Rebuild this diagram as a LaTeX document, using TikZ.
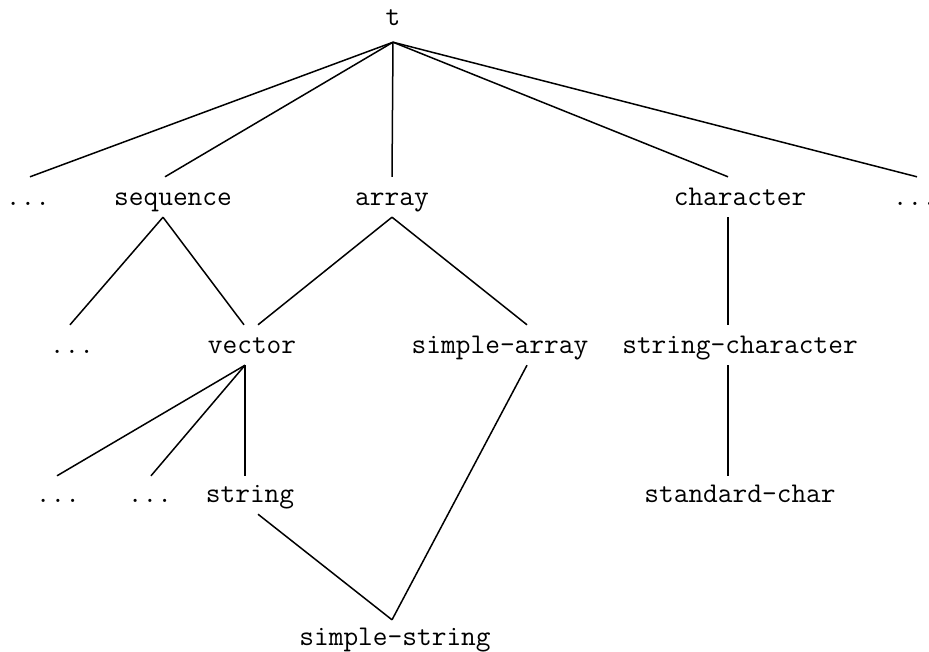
\documentclass[tikz,border=0pt]{standalone}
\usepackage{tikz}
\usetikzlibrary{calc}
\tikzset{%
  myedge/.style={line width=1.5pt, line cap=butt},
  mynode/.style={font=\fontsize{28.57}{30}\ttfamily, inner sep=0pt, anchor=base,
    text height=28pt, text depth=12pt}
}

\begin{document}
\begin{tikzpicture}[x=1pt, y=-1pt]
  \useasboundingbox (0,0) rectangle (929,651);
  \node[mynode, text depth=17pt] (t) at (393,25) {t};
  \node[mynode] (d1) at (28,205) {...};
  \node[mynode] (seq) at (173,205) {sequence};
  \node[mynode] (arr) at (392,205) {array};
  \node[mynode] (chr) at (740,205) {character};
  \node[mynode] (d2) at (915,205) {...};
  \node[mynode] (d3) at (72,353) {...};
  \node[mynode] (vec) at (252,353) {vector};
  \node[mynode] (sarr) at (500,353) {simple-array};
  \node[mynode] (schr) at (740,353) {string-character};
  \node[mynode] (d4) at (58,502) {...};
  \node[mynode] (d5) at (150,502) {...};
  \node[mynode] (str) at (250,502) {string};
  \node[mynode] (stdc) at (740,502) {standard-char};
  \node[mynode, text height=25pt] (sstr) at (395,645) {simple-string};
  \draw [myedge] (t.south) -- ([xshift=2pt]d1.north);
  \draw [myedge] (t.south) -- ([xshift=-8pt]seq.north);
  \draw [myedge] (t.south) -- (arr.north);
  \draw [myedge] (t.south) -- ([xshift=-12pt]chr.north);
  \draw [myedge] (t.south) -- ([xshift=2pt]d2.north);
  \draw [myedge] ([xshift=-10pt]seq.south) -- ([xshift=-2pt]d3.north);
  \draw [myedge] ([xshift=-10pt]seq.south) -- ([xshift=-8pt]vec.north);
  \draw [myedge] (arr.south) -- ([xshift=6pt]vec.north);
  \draw [myedge] (arr.south) -- ([xshift=27pt]sarr.north);
  \draw [myedge] ([xshift=-12pt]chr.south) -- ([xshift=-12pt]schr.north);
  \draw [myedge] ([xshift=-7pt]vec.south) -- ([xshift=-1pt, yshift=-2pt]d4.north);
  \draw [myedge] ([xshift=-7pt]vec.south) -- ([xshift=1pt, yshift=-2pt]d5.north);
  \draw [myedge] ([xshift=-7pt]vec.south) -- ([xshift=-5pt, yshift=-2pt]str.north);
  \draw [myedge] ([xshift=-12pt]schr.south) -- ([xshift=-12pt, yshift=-2pt]stdc.north);
  \draw [myedge] ([xshift=8pt]str.south) -- ([xshift=-3pt]sstr.north);
  \draw [myedge] ([xshift=27pt]sarr.south) -- ([xshift=-3pt]sstr.north);
\end{tikzpicture}
\end{document}
